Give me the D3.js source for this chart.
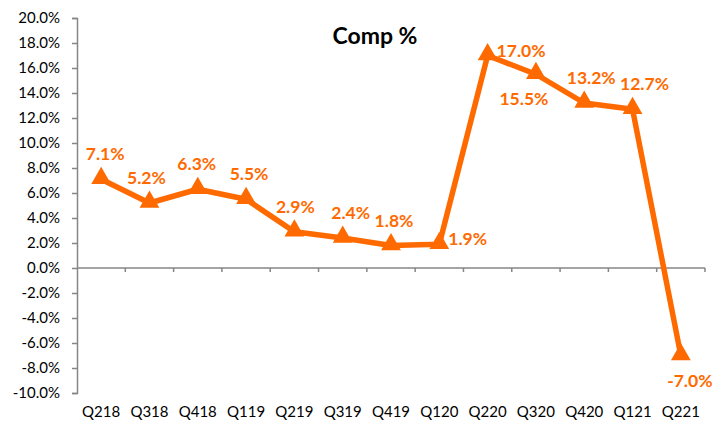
<!DOCTYPE html>
<html>
<head>
<meta charset="utf-8">
<script src="https://cdn.jsdelivr.net/npm/d3@7"></script>
<style>
  body { margin: 0; background: #fff; }
  svg { display: block; }
</style>
</head>
<body>
<div id="chart"></div>
<script>
// data
const quarters = ["Q218", "Q318", "Q418", "Q119", "Q219", "Q319", "Q419", "Q120", "Q220", "Q320", "Q420", "Q121", "Q221"];
const comp = [7.1, 5.2, 6.3, 5.5, 2.9, 2.4, 1.8, 1.9, 17.0, 15.5, 13.2, 12.7, -7.0];
const yTicks = [20, 18, 16, 14, 12, 10, 8, 6, 4, 2, 0, -2, -4, -6, -8, -10];

// where each data label sits relative to its marker, plus a small sideways nudge
const labelSide = ["top", "top", "top", "top", "top", "top", "top", "right", "right", "bottom", "top", "top", "bottom"];
const labelNudge = [4, -3, -1, 3, 1, 8, 3, 0, 0, -12, 7, 12, 9];

const width = 728, height = 426;
const orange = "#FF6A00";
const axisGrey = "#868686";
const font = "Lato, 'Open Sans', sans-serif";

const svg = d3.select("#chart").append("svg")
  .attr("width", width)
  .attr("height", height);

const x = d3.scaleBand().domain(quarters).range([77, 705]);
const y = d3.scaleLinear().domain([-10, 20]).range([393, 18]);

// y axis
const yAxis = svg.append("g")
  .attr("transform", "translate(77,0)")
  .call(d3.axisLeft(y).tickValues(yTicks).tickSize(5).tickPadding(12)
    .tickFormat(d => d.toFixed(1) + "%"));
yAxis.select(".domain").attr("stroke", axisGrey).attr("stroke-width", 1.5);
yAxis.selectAll(".tick line").attr("stroke", axisGrey).attr("stroke-width", 1.5);
yAxis.selectAll("text").attr("font-family", font).attr("font-size", 15).attr("fill", "#000");

// x axis on zero line, ticks at band edges
const xAxisG = svg.append("g").attr("transform", `translate(0,${y(0)})`);
xAxisG.append("line")
  .attr("x1", x.range()[0]).attr("x2", x.range()[1])
  .attr("stroke", axisGrey).attr("stroke-width", 1.5);
const edges = quarters.map(q => x(q)).slice(1).concat([x.range()[1]]);
xAxisG.selectAll(".edge").data(edges).join("line")
  .attr("x1", d => d).attr("x2", d => d)
  .attr("y1", 0).attr("y2", 4)
  .attr("stroke", axisGrey).attr("stroke-width", 1.5);

svg.append("g").selectAll("text").data(quarters).join("text")
  .attr("x", d => x(d) + x.bandwidth() / 2)
  .attr("y", 417)
  .attr("text-anchor", "middle")
  .attr("font-family", font)
  .attr("font-size", 15)
  .attr("fill", "#000")
  .text(d => d);

// title
svg.append("text")
  .attr("x", 375).attr("y", 44)
  .attr("text-anchor", "middle")
  .attr("font-family", font)
  .attr("font-weight", "bold")
  .attr("font-size", 23)
  .text("Comp %");

const cx = (d, i) => x(quarters[i]) + x.bandwidth() / 2;

// line
const line = d3.line().x(cx).y(d => y(d));
svg.append("path")
  .datum(comp)
  .attr("d", line)
  .attr("fill", "none")
  .attr("stroke", orange)
  .attr("stroke-width", 5.5)
  .attr("stroke-linejoin", "round");

// triangle markers
const tri = d3.symbol().type(d3.symbolTriangle).size(170);
svg.append("g").selectAll("path").data(comp).join("path")
  .attr("d", tri)
  .attr("transform", (d, i) => `translate(${cx(d, i)},${y(d) - 1})`)
  .attr("fill", orange);

// data labels
svg.append("g").selectAll("text").data(comp).join("text")
  .attr("x", (d, i) => {
    const side = labelSide[i];
    return side === "right" ? cx(d, i) + 9 : cx(d, i) + labelNudge[i];
  })
  .attr("y", (d, i) => {
    const side = labelSide[i];
    if (side === "top") return y(d) - 19;
    if (side === "bottom") return y(d) + 31;
    return y(d) + 1;
  })
  .attr("text-anchor", (d, i) => labelSide[i] === "right" ? "start" : "middle")
  .attr("font-family", font)
  .attr("font-weight", "bold")
  .attr("font-size", 17.5)
  .attr("fill", orange)
  .text(d => d.toFixed(1) + "%");
</script>
</body>
</html>
